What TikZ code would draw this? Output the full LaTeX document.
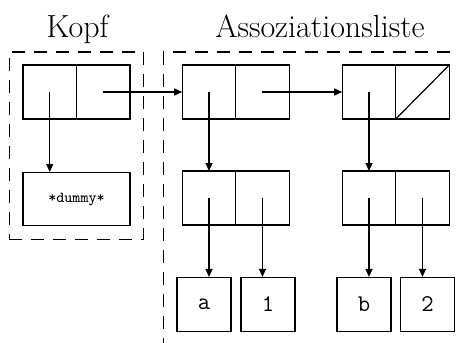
\documentclass[tikz,border=0pt]{standalone}
\usepackage{tikz}
\usetikzlibrary{arrows.meta, positioning, fit}

\begin{document}
\begin{tikzpicture}[
    x=0.5pt, y=-0.5pt,
    line width=0.6pt,
    cell/.style={rectangle, draw, minimum width=26.75pt, minimum height=27pt, inner sep=0pt, outer sep=0pt},
    leaf/.style={rectangle, draw, minimum width=27pt, minimum height=27pt, inner sep=0pt, font=\fontsize{12}{14}\selectfont\ttfamily},
    dummybox/.style={rectangle, draw, minimum width=53.5pt, minimum height=26.5pt, inner sep=0pt, font=\fontsize{7.6}{9}\selectfont\ttfamily},
    group/.style={draw, dash pattern=on 6.5pt off 4.5pt, inner sep=6.5pt},
    title/.style={anchor=base, font=\fontsize{16}{19}\selectfont},
    arrow/.style={-{Triangle[length=4pt, width=3.5pt]}}
]
    \clip (0,0) rectangle (457,343);

    % Kopf
    \node[cell] (kcar) at (49.75,92) {};
    \node[cell, right=0pt of kcar] (kcdr) {};
    \node[dummybox, below=26.5pt of kcar.south east] (dummy) {*dummy*};

    % Assoziationsliste
    \node[cell] (a1car) at (209,92) {};
    \node[cell, right=0pt of a1car] (a1cdr) {};
    \node[cell, below=26pt of a1car] (a2car) {};
    \node[cell, right=0pt of a2car] (a2cdr) {};
    \node[cell] (b1car) at (369,92) {};
    \node[cell, right=0pt of b1car] (b1cdr) {};
    \node[cell, below=26pt of b1car] (b2car) {};
    \node[cell, right=0pt of b2car] (b2cdr) {};

    % Atome
    \node[leaf] (a) at (204,304.5) {a};
    \node[leaf] (one) at (268,304.5) {1};
    \node[leaf] (b) at (364,304.5) {b};
    \node[leaf] (two) at (427.5,304.5) {2};

    % Gruppen
    \node[group, fit=(kcar) (kcdr) (dummy)] (kopf) {};
    \node[group, fit=(a1car) (b1cdr) (a) (two)] (liste) {};
    \node[title] (kopftitle) at (77.5,37) {Kopf};
    \node[title] (listetitle) at (320,37) {Assoziationsliste};

    % Zeiger
    \draw[arrow] (kcar.center) -- (kcar.center |- dummy.north);
    \draw[arrow] (kcdr.center) -- (a1car.west);
    \draw[arrow] (a1cdr.center) -- (b1car.west);
    \draw[arrow] (a1car.center) -- (a2car.north);
    \draw[arrow] (b1car.center) -- (b2car.north);
    \draw[arrow] (a2car.center) -- (a2car.center |- a.north);
    \draw[arrow] (a2cdr.center) -- (a2cdr.center |- one.north);
    \draw[arrow] (b2car.center) -- (b2car.center |- b.north);
    \draw[arrow] (b2cdr.center) -- (b2cdr.center |- two.north);
    \draw (b1cdr.south west) -- (b1cdr.north east);
\end{tikzpicture}
\end{document}
